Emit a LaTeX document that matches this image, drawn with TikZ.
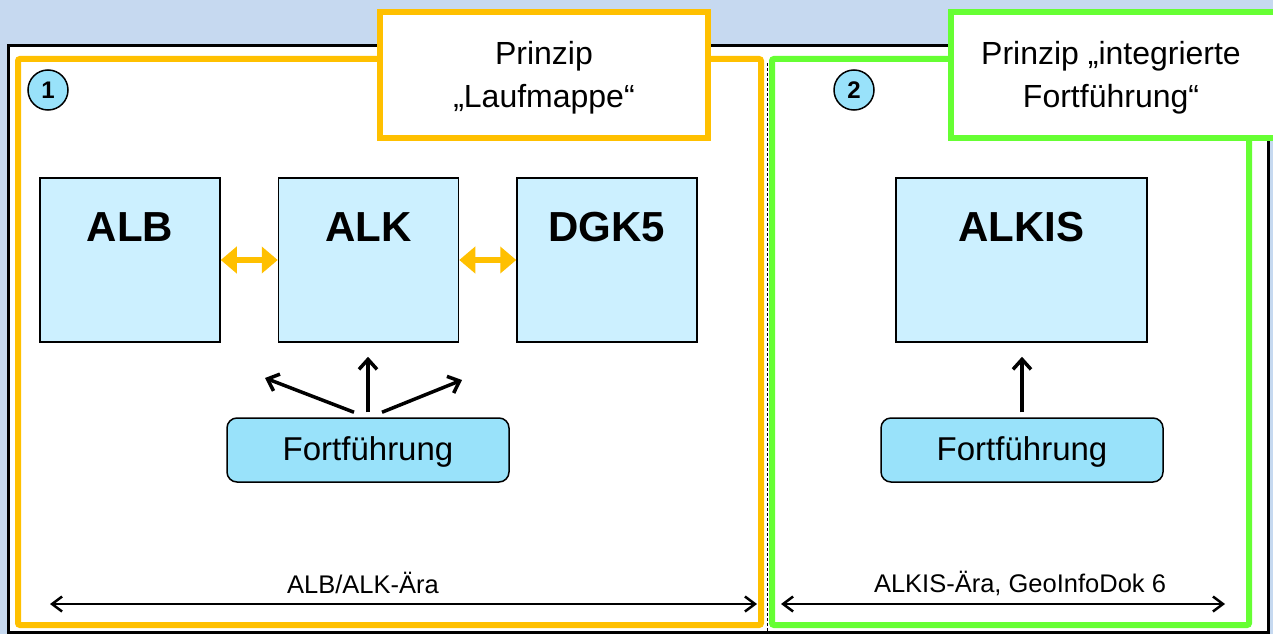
\documentclass[tikz,border=0pt]{standalone}
\usepackage{fontspec}
\setmainfont{Liberation Sans}
\usetikzlibrary{
  arrows.meta,
  positioning
}

\begin{document}
\begin{tikzpicture}[
  x=1pt, y=-1pt,
  every node/.style={font=\fontsize{33}{44}\selectfont},
  sysbox/.style={rectangle, draw=black, line width=1.5pt, fill=cSys, minimum height=164pt},
  syslab/.style={font=\fontsize{42}{50}\selectfont\bfseries, inner sep=0pt},
  fortbox/.style={rectangle, rounded corners=10pt, draw=black, line width=1.5pt, fill=cFort,
    minimum width=282pt, minimum height=64pt, text height=27pt, text depth=7pt},
  numc/.style={circle, draw=black, line width=1.5pt, fill=cFort, minimum size=40pt, inner sep=0pt,
    font=\fontsize{24}{24}\selectfont\bfseries},
  prinzip/.style={fill=white, line width=6.5pt},
  headtxt/.style={align=center, inner sep=0pt, font=\fontsize{32}{43}\selectfont},
  sync/.style={{Triangle[width=26pt,length=16pt]}-{Triangle[width=26pt,length=16pt]},
    line width=6pt, draw=cOrange},
  upd/.style={-{Straight Barb[length=10pt,width=18pt]}, line width=3.5pt},
  era/.style={{Straight Barb[length=10pt,width=15pt]}-{Straight Barb[length=10pt,width=15pt]}, line width=2.5pt},
  eralab/.style={font=\fontsize{25.5}{30}\selectfont}
]
  % colours
  \definecolor{cBack}{HTML}{C6D9F0}
  \definecolor{cSys}{HTML}{CCF0FF}
  \definecolor{cFort}{HTML}{99E2FA}
  \definecolor{cOrange}{HTML}{FFC000}
  \definecolor{cGreen}{HTML}{66FF33}

  \useasboundingbox (0,0) rectangle (1273,634);
  \fill[cBack] (0,0) rectangle (1273,634);

  % slide frame and the two eras
  \draw[fill=white, line width=3pt] (8,46) rectangle (1268,632);
  \draw[cOrange, line width=6pt, rounded corners=2pt] (18,59) rectangle (761,625);
  \draw[cGreen, line width=6pt, rounded corners=2pt] (772,59) rectangle (1249,625);
  \draw[densely dashed, line width=0.8pt] (767,63) -- (767,631);

  % headings
  \draw[prinzip, draw=cOrange] (380,12) rectangle (708,138);
  \node[headtxt] (headL) at (544,78) {Prinzip\\„Laufmappe“};
  \draw[prinzip, draw=cGreen] (951,12) rectangle (1300,138);
  \node[headtxt] (headR) at (1111,78) {Prinzip „integrierte\\Fortführung“};

  \node[numc] (n1) at (48,90) {1};
  \node[numc] (n2) at (854,90) {2};

  % ALB/ALK era
  \node[sysbox, minimum width=180pt] (alb) at (130,260) {};
  \node[sysbox, minimum width=180pt, right=57pt of alb] (alk) {};
  \node[sysbox, minimum width=180pt, right=57pt of alk] (dgk) {};
  \node[syslab, below=35pt of alb.north] {ALB};
  \node[syslab, below=35pt of alk.north] {ALK};
  \node[syslab, below=35pt of dgk.north] {DGK5};

  \draw[sync] (alb) -- (alk);
  \draw[sync] (alk) -- (dgk);

  \node[fortbox] (fortL) at (368,450) {Fortführung};
  \coordinate (tipL) at (265,378);
  \coordinate (tipR) at (462,380);
  \draw[upd, shorten <=5pt, shorten >=14pt] (fortL.north) -- (fortL.north |- alk.south);
  \draw[upd] ([shift={(-14pt,5pt)}]fortL.north) -- (tipL);
  \draw[upd] ([shift={(14pt,5pt)}]fortL.north) -- (tipR);

  % ALKIS era
  \node[sysbox, minimum width=251pt] (alkis) at (1021.5,260) {};
  \node[syslab, below=35pt of alkis.north] {ALKIS};
  \node[fortbox] (fortR) at (1022,450) {Fortführung};
  \draw[upd, shorten <=5pt, shorten >=14pt] (fortR.north) -- (fortR.north |- alkis.south);

  % time spans
  \coordinate (eraA1) at (50,604);
  \coordinate (eraA2) at (757,604);
  \coordinate (eraB1) at (781,604);
  \coordinate (eraB2) at (1225,604);
  \node[eralab] (eraA) at (363,583) {ALB/ALK-Ära};
  \node[eralab] (eraB) at (1020,583) {ALKIS-Ära, GeoInfoDok 6};
  \draw[era] (eraA1) -- (eraA2);
  \draw[era] (eraB1) -- (eraB2);

\end{tikzpicture}
\end{document}
